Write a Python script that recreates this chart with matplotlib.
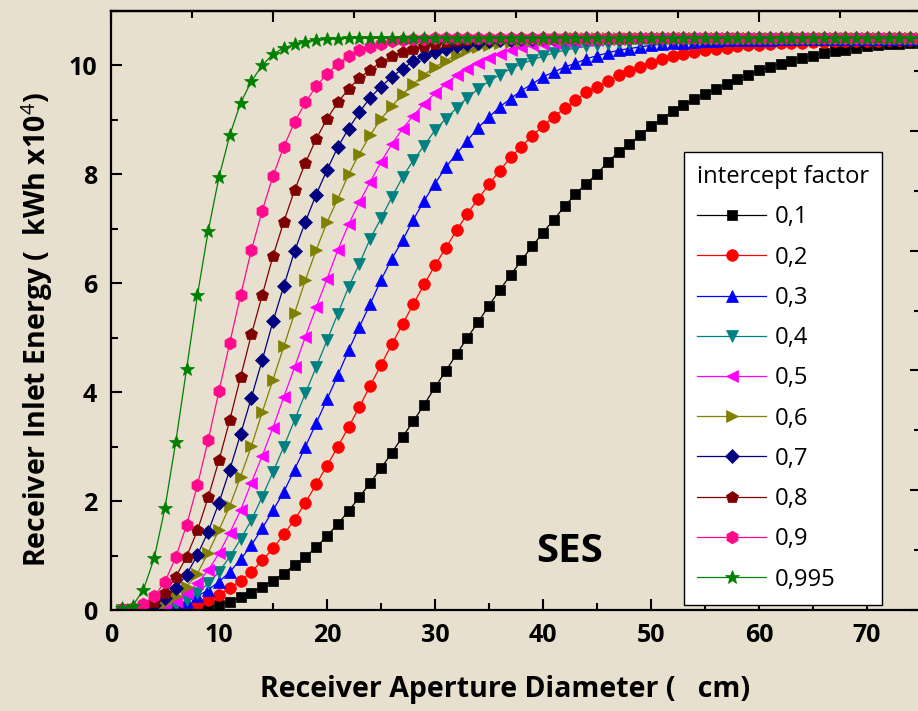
import matplotlib
matplotlib.use('Agg')
import matplotlib.pyplot as plt
from matplotlib.ticker import MultipleLocator
import numpy as np

plt.rcParams['font.family'] = ['Open Sans', 'DejaVu Sans']
plt.rcParams['mathtext.fontset'] = 'custom'
plt.rcParams['mathtext.rm'] = 'Open Sans'
plt.rcParams['mathtext.bf'] = 'Open Sans:bold'
plt.rcParams['mathtext.it'] = 'Open Sans:italic'

# ---------------- data ----------------
diameter = np.arange(1, 76)  # receiver aperture diameter (cm), 1 cm steps

factors = ['0,1', '0,2', '0,3', '0,4', '0,5', '0,6', '0,7', '0,8', '0,9', '0,995']

energy_01 = [0.0, 0.0, 0.0, 0.0, 0.0, 0.0, 0.01, 0.03, 0.05,
             0.09, 0.15, 0.23, 0.32, 0.43, 0.54, 0.67, 0.83, 0.98, 1.15,
             1.36, 1.58, 1.82, 2.07, 2.34, 2.60, 2.89, 3.18, 3.47, 3.77,
             4.09, 4.39, 4.70, 5.00, 5.29, 5.59, 5.88, 6.15, 6.42, 6.68,
             6.93, 7.17, 7.41, 7.64, 7.83, 8.01, 8.23, 8.41, 8.56, 8.72,
             8.88, 9.02, 9.16, 9.27, 9.38, 9.48, 9.57, 9.66, 9.75, 9.83,
             9.91, 9.97, 10.03, 10.09, 10.14, 10.18, 10.23, 10.26, 10.29, 10.32,
             10.35, 10.37, 10.39, 10.40, 10.41, 10.42]

energy_02 = [0.0, 0.0, 0.0, 0.0, 0.01, 0.03, 0.06, 0.11, 0.18,
             0.28, 0.40, 0.54, 0.70, 0.91, 1.13, 1.39, 1.66, 1.97, 2.31,
             2.65, 3.00, 3.36, 3.73, 4.12, 4.50, 4.88, 5.25, 5.62, 5.98,
             6.33, 6.65, 6.97, 7.28, 7.55, 7.82, 8.07, 8.31, 8.51, 8.71,
             8.89, 9.06, 9.21, 9.36, 9.51, 9.60, 9.71, 9.82, 9.90, 9.97,
             10.05, 10.11, 10.17, 10.21, 10.25, 10.28, 10.31, 10.32, 10.35, 10.37,
             10.38, 10.40, 10.41, 10.42, 10.42, 10.43, 10.43, 10.44, 10.44, 10.45,
             10.45, 10.45, 10.46, 10.46, 10.46, 10.46]

energy_03 = [0.0, 0.0, 0.0, 0.01, 0.03, 0.08, 0.15, 0.25,
             0.37, 0.52, 0.70, 0.93, 1.19, 1.50, 1.83, 2.17, 2.58, 3.00,
             3.43, 3.87, 4.31, 4.77, 5.20, 5.62, 6.06, 6.45, 6.79, 7.17,
             7.52, 7.83, 8.13, 8.38, 8.62, 8.86, 9.05, 9.24, 9.39, 9.54,
             9.66, 9.79, 9.88, 9.97, 10.04, 10.12, 10.18, 10.23, 10.28, 10.31,
             10.34, 10.37, 10.39, 10.41, 10.42, 10.43, 10.44, 10.45, 10.46, 10.46,
             10.47, 10.47, 10.47, 10.48, 10.48, 10.48, 10.48, 10.48, 10.49, 10.49,
             10.49, 10.49, 10.49, 10.49, 10.49, 10.49, 10.49]

energy_04 = [0.0, 0.0, 0.0, 0.01, 0.04, 0.09, 0.18,
             0.31, 0.49, 0.70, 0.98, 1.30, 1.65, 2.08, 2.53, 3.00, 3.49,
             3.98, 4.46, 4.95, 5.44, 5.93, 6.36, 6.82, 7.19, 7.58, 7.95,
             8.26, 8.53, 8.81, 9.02, 9.22, 9.41, 9.57, 9.71, 9.83, 9.94,
             10.03, 10.10, 10.17, 10.23, 10.28, 10.32, 10.35, 10.37, 10.39, 10.41,
             10.42, 10.43, 10.44, 10.45, 10.46, 10.47, 10.47, 10.48, 10.48, 10.48,
             10.49, 10.49, 10.49, 10.49, 10.49, 10.49, 10.49, 10.49, 10.49, 10.49,
             10.49, 10.49, 10.49, 10.49, 10.49, 10.49, 10.49, 10.49]

energy_05 = [0.0, 0.0, 0.01, 0.03, 0.08, 0.17, 0.31,
             0.49, 0.73, 1.04, 1.42, 1.83, 2.34, 2.83, 3.35, 3.91, 4.46,
             5.02, 5.56, 6.08, 6.61, 7.08, 7.49, 7.86, 8.23, 8.55, 8.84,
             9.08, 9.30, 9.49, 9.66, 9.82, 9.94, 10.04, 10.14, 10.21, 10.28,
             10.33, 10.37, 10.40, 10.42, 10.44, 10.45, 10.46, 10.47, 10.48, 10.49,
             10.50, 10.50, 10.50, 10.50, 10.50, 10.50, 10.50, 10.50, 10.50, 10.50,
             10.50, 10.50, 10.50, 10.50, 10.50, 10.50, 10.50, 10.50, 10.50, 10.50,
             10.50, 10.50, 10.50, 10.50, 10.50, 10.50, 10.50, 10.50]

energy_06 = [0.0, 0.01, 0.02, 0.06, 0.13, 0.25,
             0.43, 0.67, 1.05, 1.47, 1.91, 2.45, 3.01, 3.63, 4.23, 4.84,
             5.45, 6.06, 6.61, 7.12, 7.55, 8.00, 8.38, 8.72, 9.02, 9.25,
             9.47, 9.66, 9.83, 9.97, 10.09, 10.19, 10.28, 10.34, 10.38, 10.41,
             10.43, 10.45, 10.46, 10.47, 10.48, 10.49, 10.50, 10.50, 10.50, 10.50,
             10.50, 10.50, 10.50, 10.50, 10.50, 10.50, 10.50, 10.50, 10.50, 10.50,
             10.50, 10.50, 10.50, 10.50, 10.50, 10.50, 10.50, 10.50, 10.50, 10.50,
             10.50, 10.50, 10.50, 10.50, 10.50, 10.50, 10.50, 10.50, 10.50]

energy_07 = [0.0, 0.01, 0.03, 0.10, 0.22,
             0.40, 0.65, 1.01, 1.44, 1.97, 2.58, 3.23, 3.90, 4.59, 5.30,
             5.95, 6.59, 7.13, 7.63, 8.08, 8.50, 8.84, 9.14, 9.41, 9.61,
             9.79, 9.94, 10.08, 10.17, 10.25, 10.31, 10.35, 10.39, 10.42, 10.44,
             10.46, 10.47, 10.48, 10.49, 10.50, 10.50, 10.50, 10.50, 10.50, 10.50,
             10.50, 10.50, 10.50, 10.50, 10.50, 10.50, 10.50, 10.50, 10.50, 10.50,
             10.50, 10.50, 10.50, 10.50, 10.50, 10.50, 10.50, 10.50, 10.50, 10.50,
             10.50, 10.50, 10.50, 10.50, 10.50, 10.50, 10.50, 10.50, 10.50, 10.50]

energy_08 = [0.0, 0.02, 0.05, 0.14,
             0.31, 0.61, 0.98, 1.46, 2.07, 2.75, 3.49, 4.28, 5.06, 5.78,
             6.50, 7.13, 7.71, 8.21, 8.65, 9.02, 9.32, 9.57, 9.77, 9.92,
             10.06, 10.17, 10.25, 10.31, 10.36, 10.40, 10.43, 10.45, 10.47, 10.48,
             10.49, 10.50, 10.50, 10.50, 10.50, 10.50, 10.50, 10.50, 10.50, 10.50,
             10.50, 10.50, 10.50, 10.50, 10.50, 10.50, 10.50, 10.50, 10.50, 10.50,
             10.50, 10.50, 10.50, 10.50, 10.50, 10.50, 10.50, 10.50, 10.50, 10.50,
             10.50, 10.50, 10.50, 10.50, 10.50, 10.50, 10.50, 10.50, 10.50, 10.50,
             10.50]

energy_09 = [0.01, 0.04, 0.11, 0.25,
             0.52, 0.97, 1.56, 2.29, 3.12, 4.02, 4.91, 5.78, 6.61, 7.33,
             7.97, 8.51, 8.96, 9.32, 9.62, 9.84, 10.03, 10.17, 10.28, 10.34,
             10.40, 10.44, 10.46, 10.48, 10.49, 10.50, 10.50, 10.50, 10.50, 10.50,
             10.50, 10.50, 10.50, 10.50, 10.50, 10.50, 10.50, 10.50, 10.50, 10.50,
             10.50, 10.50, 10.50, 10.50, 10.50, 10.50, 10.50, 10.50, 10.50, 10.50,
             10.50, 10.50, 10.50, 10.50, 10.50, 10.50, 10.50, 10.50, 10.50, 10.50,
             10.50, 10.50, 10.50, 10.50, 10.50, 10.50, 10.50, 10.50, 10.50, 10.50,
             10.50]

energy_0995 = [0.03, 0.08, 0.37, 0.95, 1.88, 3.09, 4.43, 5.78, 6.96, 7.95,
               8.72, 9.31, 9.71, 10.00, 10.21, 10.32, 10.39, 10.43, 10.46, 10.48,
               10.49, 10.50, 10.50, 10.50, 10.50, 10.50, 10.50, 10.50, 10.50, 10.50,
               10.50, 10.50, 10.50, 10.50, 10.50, 10.50, 10.50, 10.50, 10.50, 10.50,
               10.50, 10.50, 10.50, 10.50, 10.50, 10.50, 10.50, 10.50, 10.50, 10.50,
               10.50, 10.50, 10.50, 10.50, 10.50, 10.50, 10.50, 10.50, 10.50, 10.50,
               10.50, 10.50, 10.50, 10.50, 10.50, 10.50, 10.50, 10.50, 10.50, 10.50,
               10.50, 10.50, 10.50, 10.50, 10.50]

x_ticks = [0, 10, 20, 30, 40, 50, 60, 70]
y_ticks = [0, 2, 4, 6, 8, 10]

series = [energy_01, energy_02, energy_03, energy_04, energy_05,
          energy_06, energy_07, energy_08, energy_09, energy_0995]

# ---------------- style ----------------
colors = ['#000000', '#FF0000', '#0000FF', '#008080', '#FF00FF',
          '#808000', '#000080', '#800000', '#FF0A8C', '#008000']
markers = ['s', 'o', '^', 'v', '<', '>', 'D', 'p', 'h', '*']
msizes = [7.4, 8.4, 9.2, 9.2, 9.2, 9.2, 7.0, 9.2, 9.2, 10.8]
bg = '#E7E0CE'

fig = plt.figure(figsize=(9.18, 7.11), dpi=100)
fig.patch.set_facecolor(bg)
W, H = 918.0, 711.0
ax = fig.add_axes([111 / W, (H - 610) / H, 810 / W, 599 / H])
ax.set_facecolor('none')

for vals, lab, c, m, ms in zip(series, factors, colors, markers, msizes):
    ax.plot(diameter, vals, color=c, lw=0.9, marker=m, ms=ms,
            mfc=c, mec=c, mew=0.5, label=lab, clip_on=True)

ax.set_xlim(0, 75)
ax.set_ylim(0, 11)
ax.set_xticks(x_ticks)
ax.set_xticklabels([str(v) for v in x_ticks], fontsize=18, fontweight='bold')
ax.set_yticks(y_ticks)
ax.set_yticklabels([str(v) for v in y_ticks], fontsize=18, fontweight='bold')
ax.xaxis.set_minor_locator(MultipleLocator(5))
ax.yaxis.set_minor_locator(MultipleLocator(1))
ax.tick_params(which='both', direction='in', width=1.5, color='black',
               top=False, right=False)
ax.tick_params(which='major', length=8)
ax.tick_params(which='minor', length=5)
ax.tick_params(axis='x', pad=9)
ax.tick_params(axis='y', pad=10)
for s in ax.spines.values():
    s.set_linewidth(1.6)

# opposite axes with their own tick spacing
axt = ax.secondary_xaxis('top')
axt.xaxis.set_major_locator(MultipleLocator(15))
axt.xaxis.set_minor_locator(MultipleLocator(7.5))
axt.tick_params(which='both', direction='in', width=1.5, labeltop=False)
axt.tick_params(which='major', length=8)
axt.tick_params(which='minor', length=5)
axt.spines['top'].set_linewidth(1.6)

axr = ax.secondary_yaxis('right')
axr.yaxis.set_major_locator(MultipleLocator(2.2))
axr.yaxis.set_minor_locator(MultipleLocator(1.1))
axr.tick_params(which='both', direction='in', width=1.5, labelright=False)
axr.tick_params(which='major', length=8)
axr.tick_params(which='minor', length=5)
axr.spines['right'].set_linewidth(1.6)

leg = ax.legend(title='intercept factor', loc='upper left',
                bbox_to_anchor=(684 / W, 1 - 152 / H),
                bbox_transform=fig.transFigure,
                frameon=True, fancybox=False, framealpha=1,
                edgecolor='black', facecolor='white',
                fontsize=17.2, title_fontsize=17.2, alignment='left',
                handlelength=2.9, handletextpad=0.35, labelspacing=0.68,
                borderpad=0.55, borderaxespad=0)
leg.get_frame().set_linewidth(1.0)

fig.text(570 / W, 1 - 551 / H, 'SES', fontsize=29, fontweight='bold',
         ha='center', va='center')
fig.text(505 / W, 1 - 690 / H, 'Receiver Aperture Diameter (   cm)',
         fontsize=20.5, fontweight='bold', ha='center', va='center')
fig.text(37 / W, 1 - 330 / H, r'Receiver Inlet Energy (  kWh x10$^{4}$)',
         fontsize=20.5, fontweight='bold', ha='center', va='center',
         rotation=90)

fig.savefig('out.png', dpi=100, facecolor=bg)
